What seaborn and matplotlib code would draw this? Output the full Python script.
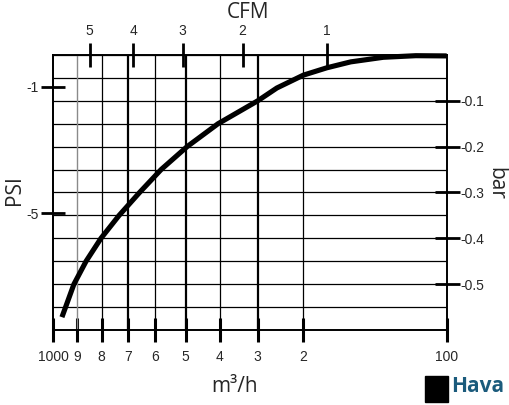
import numpy as np
import matplotlib
matplotlib.use("Agg")
import matplotlib.pyplot as plt
import seaborn as sns
from matplotlib.patches import Rectangle
from matplotlib.ticker import MultipleLocator, NullLocator

# Curve: flow in m3/h against vacuum in bar
flow_m3h = [964, 914, 864, 803, 733, 657, 581, 496, 405, 300, 258, 200, 170, 156, 137, 118, 100]
vacuum_bar = [-0.572, -0.50, -0.45, -0.40, -0.35, -0.30, -0.25, -0.20, -0.15, -0.10,
              -0.072, -0.044, -0.028, -0.015, -0.005, -0.0015, -0.002]

# Axis ticks
flow_ticks = [1000, 900, 800, 700, 600, 500, 400, 300, 200, 100]
flow_labels = ["1000", "9", "8", "7", "6", "5", "4", "3", "2", "100"]
cfm_ticks = [500, 400, 300, 200, 100]
cfm_labels = ["5", "4", "3", "2", "1"]
bar_ticks = [-0.1, -0.2, -0.3, -0.4, -0.5]
bar_labels = ["-0.1", "-0.2", "-0.3", "-0.4", "-0.5"]
psi_ticks = [-1, -5]
psi_labels = ["-1", "-5"]

# The flow axis of the source chart is neither linear nor log,
# so map it piecewise through its gridlines
scale_flow = [100, 170, 200, 300, 400, 500, 600, 700, 800, 900, 1000]
scale_pos = [0.0, 0.305, 0.3645, 0.4804, 0.577, 0.6634, 0.7407, 0.8109, 0.877, 0.939, 1.0]

M3H_PER_CFM = 1.699
PSI_PER_BAR = 14.5038


def flow_fwd(v):
    return np.interp(np.asarray(v, dtype=float), scale_flow, scale_pos)


def flow_inv(u):
    return np.interp(np.asarray(u, dtype=float), scale_pos, scale_flow)


sns.set_style("white")
plt.rcParams["font.family"] = ["Liberation Sans", "DejaVu Sans"]

fig = plt.figure(figsize=(5.09, 4.05), dpi=100)
ax = fig.add_axes([0.1047, 0.1852, 0.7729, 0.679])

# grid: horizontal every 0.05 bar, vertical on each flow tick
ax.set_ylim(-0.6, 0)
ax.yaxis.set_minor_locator(MultipleLocator(0.05))
ax.grid(axis="y", which="both", color="black", linewidth=0.9)
grid_styles = {900: ("#8a8a8a", 1.0), 800: ("black", 0.9), 700: ("black", 1.6),
               600: ("black", 0.9), 500: ("black", 1.6), 400: ("black", 0.9),
               300: ("black", 1.6), 200: ("black", 0.9)}
for val, (col, lw) in grid_styles.items():
    ax.axvline(val, color=col, linewidth=lw, zorder=1)

sns.lineplot(x=flow_m3h, y=vacuum_bar, sort=False, color="black", linewidth=3.7,
             solid_capstyle="butt", ax=ax, zorder=5)
ax.lines[-1].set_clip_on(False)

ax.set_xscale("function", functions=(flow_fwd, flow_inv))
ax.set_xlim(1000, 100)
ax.set_xticks(flow_ticks, labels=flow_labels)
ax.xaxis.set_minor_locator(NullLocator())
ax.tick_params(axis="x", which="major", direction="inout", length=17, width=2.2,
               pad=6, labelsize=10, color="black", bottom=True)
ax.set_xlabel("")
ax.set_ylabel("")

# bar on the right
ax.yaxis.tick_right()
ax.set_yticks(bar_ticks, labels=bar_labels)
ax.tick_params(axis="y", which="major", direction="inout", length=18, width=2.0,
               pad=1, labelsize=10, color="black", right=True)
ax.tick_params(axis="y", which="minor", length=0)

for sp in ax.spines.values():
    sp.set_visible(True)
    sp.set_color("black")
    sp.set_linewidth(1.2)

# PSI on the left
psi_ax = ax.secondary_yaxis("left", functions=(lambda b: b * PSI_PER_BAR,
                                               lambda p: p / PSI_PER_BAR))
psi_ax.set_yticks(psi_ticks, labels=psi_labels)
psi_ax.tick_params(direction="inout", length=17, width=2.0, pad=2, labelsize=10,
                   color="black")
psi_ax.spines["left"].set_linewidth(1.2)

# CFM on top, same flow scale
top = ax.twiny()
top.set_xscale("function", functions=(flow_fwd, flow_inv))
top.set_xlim(1000, 100)
top.set_xticks([c * M3H_PER_CFM for c in cfm_ticks], labels=cfm_labels)
top.xaxis.set_minor_locator(NullLocator())
top.tick_params(axis="x", direction="inout", length=17, width=2.0, pad=4,
                labelsize=10, color="black", top=True)
for sp in top.spines.values():
    sp.set_linewidth(1.2)
    sp.set_color("black")

label_font = ["Open Sans", "DejaVu Sans"]
fig.text(247.5 / 509, 1 - 13 / 405, "CFM", fontsize=15, family=label_font,
         ha="center", va="center")
fig.text(235 / 509, 1 - 386 / 405, "m³/h", fontsize=15, family=label_font,
         ha="center", va="center")
fig.text(14.5 / 509, 1 - 190 / 405, "PSI", fontsize=15, family=label_font,
         rotation=90, ha="center", va="center")
fig.text(495.7 / 509, 1 - 183 / 405, "bar", fontsize=15, family=label_font,
         rotation=270, ha="center", va="center")

# brand mark
fig.patches.append(Rectangle((425 / 509, 3 / 405), 23 / 509, 26 / 405,
                             transform=fig.transFigure, color="black"))
fig.text(451.5 / 509, 1 - 392 / 405, "Hava", fontsize=15, fontweight="bold",
         family=label_font, color="#1b5b7c", ha="left", va="baseline")

fig.savefig("out.png", dpi=100)
